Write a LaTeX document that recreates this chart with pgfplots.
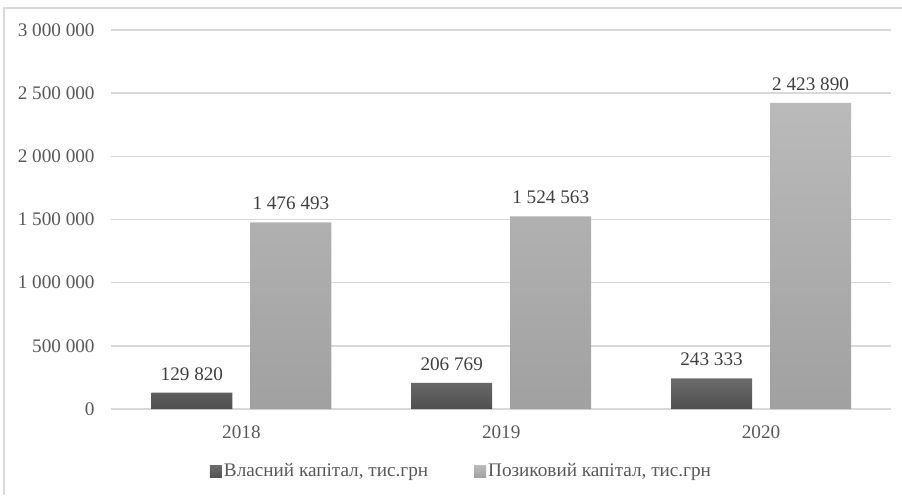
\documentclass[border=0pt]{standalone}
\usepackage{pgfplots}
\pgfplotsset{compat=1.18}
\usepackage{pgfplotstable}
\usepackage{fontspec}
\setmainfont{Liberation Serif}
\definecolor{txt}{HTML}{595959}
\definecolor{lbl}{HTML}{404040}
\definecolor{gridc}{HTML}{D9D9D9}
\pgfplotstableread{
x own borrowed
0 129820 1476493
1 206769 1524563
2 243333 2423890
}\datatab
\newcommand{\fs}{\fontsize{9.6pt}{11pt}\selectfont}
\begin{document}
\begin{tikzpicture}
\path[use as bounding box] (0,0) rectangle (451pt,247.5pt);
\draw[gridc, line width=0.8pt] (2pt,0) -- (2pt,243.5pt) -- (451pt,243.5pt);
\begin{axis}[
  at={(55.75pt,43pt)}, anchor=south west,
  scale only axis, width=389.75pt, height=189.5pt,
  ybar=9pt, bar width=40.5pt,
  xmin=-0.5, xmax=2.5, ymin=0, ymax=3000000,
  xtick={0,1,2}, xticklabels={2018,2019,2020},
  ytick={0,500000,1000000,1500000,2000000,2500000,3000000},
  scaled y ticks=false,
  /pgf/number format/.cd, fixed, precision=0, 1000 sep={\ }, assume math mode=true, /pgfplots/.cd,
  axis line style={draw=none},
  major tick length=0pt,
  ymajorgrids, xmajorgrids=false, major grid style={draw=gridc, line width=0.7pt},
  ticklabel style={font=\fs, text=txt},
  yticklabel style={inner sep=0pt, xshift=-8.25pt},
  xticklabel style={inner sep=0pt, yshift=-8pt},
  nodes near coords={\pgfmathprintnumber{\pgfplotspointmeta}},
  every node near coord/.append style={font=\fs, text=lbl, anchor=south, inner sep=0pt, yshift=6pt},
  legend style={at={(rel axis cs:0.449,-0.166)}, anchor=center, draw=none, fill=none,
    legend columns=2, font=\fs, text=txt,
    /tikz/every even column/.append style={column sep=22pt},
    nodes={inner sep=1pt}},
  legend image code/.code={\path[#1,draw=none] (0pt,-3pt) rectangle (6pt,3pt);},
]
\addplot[draw=none, top color=black!58, bottom color=black!69] table[x=x, y=own] {\datatab};
\addlegendentry{Власний капітал, тис.грн}
\addplot[draw=none, top color=black!27, bottom color=black!37] table[x=x, y=borrowed] {\datatab};
\addlegendentry{Позиковий капітал, тис.грн}
\end{axis}
\end{tikzpicture}
\end{document}
